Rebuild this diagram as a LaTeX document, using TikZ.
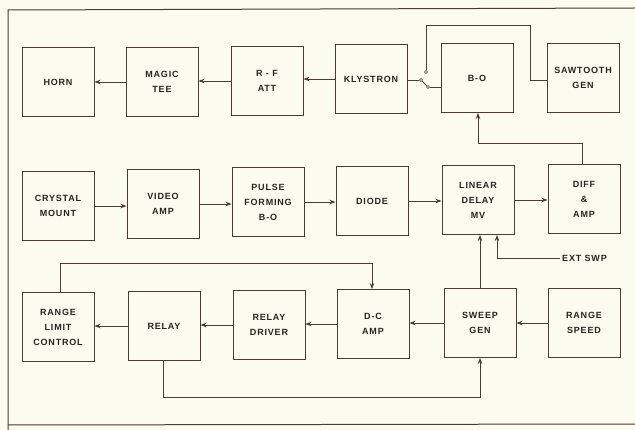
\documentclass[tikz,border=0pt]{standalone}
\usepackage{fontspec}
\setmainfont{Liberation Sans}[LetterSpace=9]
\usetikzlibrary{arrows.meta,calc}
\definecolor{bg}{HTML}{FBFBF0}
\definecolor{ink}{HTML}{4A3C30}
\definecolor{txt}{HTML}{2A2420}
\tikzset{
  blk/.style={draw=ink,line width=1pt,minimum width=72pt,minimum height=69pt,
    align=center,inner sep=1pt,text=txt,font=\fontsize{9}{15}\selectfont\bfseries},
  wire/.style={draw=ink,line width=0.8pt},
  arr/.style={wire,-{Stealth[length=6pt,width=4.5pt,inset=2pt]}},
  term/.style={circle,draw=ink,line width=0.6pt,fill=bg,inner sep=0pt,minimum size=3pt},
}
\begin{document}
\begin{tikzpicture}[x=1pt,y=-1pt]
\fill[bg] (0,0) rectangle (635,430);
\useasboundingbox (0,0) rectangle (635,430);
\draw[ink,line width=1pt] (635,8) -- (8,10) -- (8,430);
\draw[ink,line width=1pt] (8,425) -- (635,424);
% row 1
\node[blk] (horn) at (58,82) {HORN};
\node[blk] (tee) at (162,82) {MAGIC\\TEE};
\node[blk] (rfatt) at (267,81) {R - F\\ATT};
\node[blk] (kly) at (371,79) {KLYSTRON};
\node[blk] (bo) at (477,78) {B-O};
\node[blk] (saw) at (583,78) {SAWTOOTH\\GEN};
% row 2
\node[blk] (cry) at (58,206) {CRYSTAL\\MOUNT};
\node[blk] (vid) at (163,204) {VIDEO\\AMP};
\node[blk] (pul) at (268,202) {PULSE\\FORMING\\B-O};
\node[blk] (dio) at (372,201) {DIODE};
\node[blk] (lin) at (478,200) {LINEAR\\DELAY\\MV};
\node[blk] (diff) at (584,199) {DIFF\\\&\\AMP};
% row 3
\node[blk] (rlc) at (58,327) {RANGE\\LIMIT\\CONTROL};
\node[blk] (rel) at (164,326) {RELAY};
\node[blk] (rd) at (269,325) {RELAY\\DRIVER};
\node[blk] (dc) at (373,324) {D-C\\AMP};
\node[blk] (sw) at (480,323) {SWEEP\\GEN};
\node[blk] (rs) at (584,323) {RANGE\\SPEED};
% row 1 connectors
\draw[arr] (tee.west) -- (tee.west -| horn.east);
\draw[arr] (rfatt.west) -- (rfatt.west -| tee.east);
\draw[arr] (kly.west) -- (kly.west -| rfatt.east);
% switch
\node[term] (sc) at (421,80) {};
\node[term] (su) at (426,72) {};
\node[term] (sl) at (428,87) {};
\draw[wire] (kly.east |- sc) -- (sc);
\draw[wire] (sc) -- (sl);
\draw[wire] (sl) -- (sl -| bo.west);
\coordinate (sawin) at (530,80);
\draw[wire] (su) -- (426,25) -- (530,25) -- (sawin) -- (sawin -| saw.west);
% row 2 connectors
\draw[arr] (cry.east) -- (cry.east -| vid.west);
\draw[arr] (vid.east) -- (vid.east -| pul.west);
\draw[arr] (pul.east) -- (pul.east -| dio.west);
\draw[arr] (dio.east) -- (dio.east -| lin.west);
\draw[arr] (lin.east) -- (lin.east -| diff.west);
\draw[arr] (diff.north -| 582,0) -- (582,143) -- (478,143) -- (478,0 |- bo.south);
% sweep to linear delay
\draw[arr] (sw.north) -- (sw.north |- lin.south);
\coordinate (ext) at (560,258);
\node[anchor=west,inner sep=2pt,text=txt,font=\fontsize{9}{10}\selectfont\bfseries] (extl) at (ext) {EXT SWP};
\draw[arr] (ext) -- (497,258) -- (497,0 |- lin.south);
% row 3 connectors
\draw[arr] (rs.west) -- (rs.west -| sw.east);
\draw[arr] (sw.west) -- (sw.west -| dc.east);
\draw[arr] (dc.west) -- (dc.west -| rd.east);
\draw[arr] (rd.west) -- (rd.west -| rel.east);
\draw[arr] (rel.west) -- (rel.west -| rlc.east);
\draw[arr] (rlc.north -| 60,0) -- (60,263) -- (372,263) -- (372,0 |- dc.north);
\draw[arr] (rel.south -| 163,0) -- (163,397) -- (480,397) -- (sw.south);
\end{tikzpicture}
\end{document}
